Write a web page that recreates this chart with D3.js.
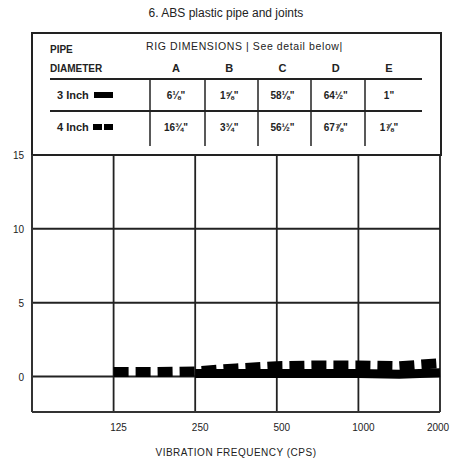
<!DOCTYPE html>
<meta charset="utf-8">
<script src="https://d3js.org/d3.v7.min.js"></script>
<style>
  body { margin: 0; background: #fff; }
  text { font-family: "Liberation Sans", Arial, sans-serif; fill: #222; }
</style>
<div id="my_dataviz"></div>
<script>

// chart data
var freqTicks = [125, 250, 500, 1000, 2000]
var yTicks = [0, 5, 10, 15]

var freq3 = [250, 354, 500, 707, 1000, 1414, 2000]
var val3  = [0.2, 0.2, 0.2, 0.2, 0.2, 0.15, 0.25]

var freq4 = [125, 177, 250, 354, 500, 707, 1000, 1414, 2000]
var val4  = [0.3, 0.3, 0.35, 0.55, 0.7, 0.75, 0.75, 0.7, 0.9]

// table data
var dimColumns = ["A", "B", "C", "D", "E"]
var pipeSizes = ["3 Inch", "4 Inch"]
var dims3 = ["6\u215B\"", "1\u215D\"", "58\u215B\"", "64\u00BD\"", "1\""]
var dims4 = ["16\u00BE\"", "3\u00BE\"", "56\u00BD\"", "67\u215E\"", "1\u215E\""]

var W = 452, H = 463

var svg = d3.select("#my_dataviz")
  .append("svg")
    .attr("width", W)
    .attr("height", H)

// plot frame
var plotLeft = 32, plotRight = 440, plotTop = 155, plotBottom = 412

var x = d3.scaleLog().base(2)
  .domain([62.5, 2000])
  .range([plotLeft, plotRight])

var y = d3.scaleLinear()
  .domain([-2.4, 15])
  .range([plotBottom, plotTop])

// title
svg.append("text")
  .attr("x", 226).attr("y", 17)
  .attr("text-anchor", "middle")
  .style("font-size", "12px")
  .text("6. ABS plastic pipe and joints")

// table box
var table = svg.append("g")
table.append("rect")
  .attr("x", 32).attr("y", 33)
  .attr("width", 409).attr("height", 122)
  .attr("fill", "none")
  .attr("stroke", "#222")
  .attr("stroke-width", 2)

table.append("text").attr("x", 50).attr("y", 53)
  .style("font-size", "10px").style("font-weight", "bold").text("PIPE")
table.append("text").attr("x", 50).attr("y", 72)
  .style("font-size", "10px").style("font-weight", "bold").text("DIAMETER")
table.append("text").attr("x", 146).attr("y", 50)
  .style("font-size", "10.5px").style("letter-spacing", "0.6px")
  .text("RIG DIMENSIONS | See detail below|")

var colX = d3.scalePoint().domain(dimColumns).range([176, 389])
var dividers = [150, 205, 258, 311, 365]

table.selectAll(".colhead")
  .data(dimColumns)
  .enter()
  .append("text")
    .attr("x", function(d) { return colX(d) })
    .attr("y", 72)
    .attr("text-anchor", "middle")
    .style("font-size", "11px")
    .style("font-weight", "bold")
    .text(function(d) { return d })

table.append("line")
  .attr("x1", 50).attr("x2", 422).attr("y1", 79).attr("y2", 79)
  .attr("stroke", "#222").attr("stroke-width", 2)
table.append("line")
  .attr("x1", 50).attr("x2", 422).attr("y1", 111).attr("y2", 111)
  .attr("stroke", "#222").attr("stroke-width", 2)

table.selectAll(".divider")
  .data(dividers)
  .enter()
  .append("line")
    .attr("x1", function(d) { return d }).attr("x2", function(d) { return d })
    .attr("y1", 79).attr("y2", 146)
    .attr("stroke", "#222").attr("stroke-width", 1.5)

var rowY = [99, 131]
var rowsDims = [dims3, dims4]
pipeSizes.forEach(function(p, i) {
  table.append("text")
    .attr("x", 57).attr("y", rowY[i])
    .style("font-size", "11px").style("font-weight", "bold")
    .text(p)
  table.selectAll(".val" + i)
    .data(rowsDims[i])
    .enter()
    .append("text")
      .attr("x", function(d, j) { return colX(dimColumns[j]) })
      .attr("y", rowY[i])
      .attr("text-anchor", "middle")
      .style("font-size", "10px")
      .style("font-weight", "bold")
      .text(function(d) { return d })
})
// legend swatches in table
table.append("line")
  .attr("x1", 94).attr("x2", 113).attr("y1", rowY[0] - 4).attr("y2", rowY[0] - 4)
  .attr("stroke", "#000").attr("stroke-width", 6)
table.append("line")
  .attr("x1", 93).attr("x2", 113).attr("y1", rowY[1] - 4).attr("y2", rowY[1] - 4)
  .attr("stroke", "#000").attr("stroke-width", 6)
  .attr("stroke-dasharray", "9,2")

// grid
var grid = svg.append("g")
grid.selectAll(".hgrid")
  .data(yTicks)
  .enter()
  .append("line")
    .attr("x1", plotLeft).attr("x2", plotRight)
    .attr("y1", function(d) { return y(d) }).attr("y2", function(d) { return y(d) })
    .attr("stroke", "#222").attr("stroke-width", 2)
grid.selectAll(".vgrid")
  .data(freqTicks)
  .enter()
  .append("line")
    .attr("x1", function(d) { return x(d) }).attr("x2", function(d) { return x(d) })
    .attr("y1", plotTop).attr("y2", plotBottom)
    .attr("stroke", "#222").attr("stroke-width", 1.8)
grid.append("line")
  .attr("x1", plotLeft).attr("x2", plotLeft).attr("y1", plotTop).attr("y2", plotBottom)
  .attr("stroke", "#333").attr("stroke-width", 2)
grid.append("line")
  .attr("x1", plotLeft).attr("x2", plotRight).attr("y1", plotBottom).attr("y2", plotBottom)
  .attr("stroke", "#333").attr("stroke-width", 2)

// tick labels
svg.selectAll(".ylab")
  .data(yTicks)
  .enter()
  .append("text")
    .attr("x", 24)
    .attr("y", function(d) { return y(d) + 4 })
    .attr("text-anchor", "end")
    .style("font-size", "10px")
    .text(function(d) { return d })

svg.selectAll(".xlab")
  .data(freqTicks)
  .enter()
  .append("text")
    .attr("x", function(d) { return Math.min(x(d) + 5, 438) })
    .attr("y", 431)
    .attr("text-anchor", "middle")
    .style("font-size", "10px")
    .text(function(d) { return d })

svg.append("text")
  .attr("x", 236).attr("y", 456)
  .attr("text-anchor", "middle")
  .style("font-size", "10px")
  .style("letter-spacing", "0.5px")
  .text("VIBRATION FREQUENCY (CPS)")

// series
var line = d3.line()
  .x(function(d) { return x(d[0]) })
  .y(function(d) { return y(d[1]) })

svg.append("path")
  .datum(d3.zip(freq3, val3))
  .attr("d", line)
  .attr("fill", "none")
  .attr("stroke", "#000")
  .attr("stroke-width", 9)

svg.append("path")
  .datum(d3.zip(freq4, val4))
  .attr("d", line)
  .attr("fill", "none")
  .attr("stroke", "#000")
  .attr("stroke-width", 10)
  .attr("stroke-dasharray", "15,7")

</script>
